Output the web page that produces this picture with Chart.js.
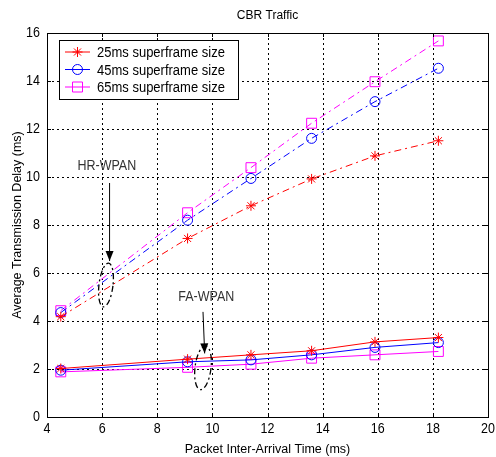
<!DOCTYPE html>
<html>
<head>
<meta charset="utf-8">
<script src="https://cdn.jsdelivr.net/npm/chart.js@4.4.0/dist/chart.umd.min.js"></script>
<style>
  html, body { margin: 0; padding: 0; background: #fff; }
</style>
</head>
<body>
<canvas id="chart" width="496" height="457"></canvas>
<script>
// ---------- DATA ----------
const interArrival = [4.5, 9.1, 11.4, 13.6, 15.9, 18.2];

// HR-WPAN (dash-dot lines)
const hr25 = [4.18, 7.44, 8.80, 9.92, 10.88, 11.51];
const hr45 = [4.35, 8.20, 9.94, 11.61, 13.14, 14.53];
const hr65 = [4.43, 8.51, 10.39, 12.24, 13.97, 15.67];

// FA-WPAN (solid lines)
const fa25 = [2.02, 2.41, 2.59, 2.76, 3.13, 3.31];
const fa45 = [1.95, 2.30, 2.38, 2.59, 2.90, 3.10];
const fa65 = [1.88, 2.07, 2.20, 2.45, 2.59, 2.73];

const legendLabels = ["25ms superframe size", "45ms superframe size", "65ms superframe size"];
const xTicks = [4, 6, 8, 10, 12, 14, 16, 18, 20];
const yTicks = [0, 2, 4, 6, 8, 10, 12, 14, 16];

const FONT = "'Liberation Sans', Arial, sans-serif";
const RED = "#ff0000", BLUE = "#0000ff", MAGENTA = "#ff00ff";
const DASHDOT = [7, 4, 2, 4];

function toPoints(ys) {
  return ys.map((y, i) => ({ x: interArrival[i], y: y }));
}

function series(label, ys, color, style, radius, dashed) {
  return {
    label: label,
    data: toPoints(ys),
    borderColor: color,
    backgroundColor: "rgba(0,0,0,0)",
    borderWidth: 1,
    borderDash: dashed ? DASHDOT : [],
    pointStyle: style,
    pointRadius: radius,
    pointBorderColor: color,
    pointBackgroundColor: "rgba(0,0,0,0)",
    pointBorderWidth: 1,
    tension: 0,
    fill: false
  };
}

// text a bit taller than wide, like the original figure
function tallText(ctx, text, x, y, size, align, stretch) {
  ctx.save();
  ctx.font = size + "px " + FONT;
  ctx.textAlign = align;
  ctx.textBaseline = "middle";
  ctx.translate(x, y);
  ctx.scale(1, stretch);
  ctx.fillText(text, 0, 0);
  ctx.restore();
}

// ---------- PLUGINS ----------
const gridPlugin = {
  id: "matlabGrid",
  beforeDatasetsDraw(chart) {
    const { ctx, chartArea: a, scales: { x, y } } = chart;
    ctx.save();
    ctx.strokeStyle = "#000";
    ctx.lineWidth = 1;
    ctx.setLineDash([2, 3]);
    xTicks.slice(1, -1).forEach(v => {
      const px = Math.round(x.getPixelForValue(v)) + 0.5;
      ctx.beginPath(); ctx.moveTo(px, a.top); ctx.lineTo(px, a.bottom); ctx.stroke();
    });
    yTicks.slice(1, -1).forEach(v => {
      const py = Math.round(y.getPixelForValue(v)) + 0.5;
      ctx.beginPath(); ctx.moveTo(a.left, py); ctx.lineTo(a.right, py); ctx.stroke();
    });
    ctx.restore();
  }
};

function drawMarker(ctx, style, cx, cy, r) {
  ctx.beginPath();
  if (style === "circle") {
    ctx.arc(cx, cy, r, 0, Math.PI * 2);
  } else if (style === "rect") {
    ctx.rect(cx - r, cy - r, 2 * r, 2 * r);
  } else {
    const d = r * Math.SQRT1_2;
    ctx.moveTo(cx - r, cy); ctx.lineTo(cx + r, cy);
    ctx.moveTo(cx, cy - r); ctx.lineTo(cx, cy + r);
    ctx.moveTo(cx - d, cy - d); ctx.lineTo(cx + d, cy + d);
    ctx.moveTo(cx - d, cy + d); ctx.lineTo(cx + d, cy - d);
  }
  ctx.stroke();
}

function drawArrow(ctx, x1, y1, x2, y2) {
  ctx.setLineDash([]);
  ctx.beginPath(); ctx.moveTo(x1, y1); ctx.lineTo(x2, y2); ctx.stroke();
  const ang = Math.atan2(y2 - y1, x2 - x1);
  const len = 10, w = 4;
  ctx.beginPath();
  ctx.moveTo(x2, y2);
  ctx.lineTo(x2 - len * Math.cos(ang) + w * Math.sin(ang), y2 - len * Math.sin(ang) - w * Math.cos(ang));
  ctx.lineTo(x2 - len * Math.cos(ang) - w * Math.sin(ang), y2 - len * Math.sin(ang) + w * Math.cos(ang));
  ctx.closePath();
  ctx.fill();
}

// annotation anchors in data units
const notes = [
  { text: "HR-WPAN", tx: 6.17, ty: 10.45, ax1: 6.27, ay1: 9.75, ax2: 6.27, ay2: 6.5, ex: 6.14, ey: 5.5, erx: 7, ery: 22 },
  { text: "FA-WPAN", tx: 9.78, ty: 5.0, ax1: 9.66, ay1: 4.38, ax2: 9.72, ay2: 2.65, ex: 9.66, ey: 2.05, erx: 8, ery: 22 }
];

const overlayPlugin = {
  id: "matlabOverlay",
  afterDatasetsDraw(chart) {
    const { ctx, chartArea: a, scales: { x, y } } = chart;
    ctx.save();

    // box and inward ticks
    ctx.strokeStyle = "#000";
    ctx.lineWidth = 1;
    ctx.setLineDash([]);
    ctx.strokeRect(Math.round(a.left) + 0.5, Math.round(a.top) + 0.5,
      Math.round(a.right - a.left), Math.round(a.bottom - a.top));
    ctx.beginPath();
    xTicks.forEach(v => {
      const px = Math.round(x.getPixelForValue(v)) + 0.5;
      ctx.moveTo(px, a.bottom); ctx.lineTo(px, a.bottom - 4);
      ctx.moveTo(px, a.top); ctx.lineTo(px, a.top + 4);
    });
    yTicks.forEach(v => {
      const py = Math.round(y.getPixelForValue(v)) + 0.5;
      ctx.moveTo(a.left, py); ctx.lineTo(a.left + 4, py);
      ctx.moveTo(a.right, py); ctx.lineTo(a.right - 4, py);
    });
    ctx.stroke();

    // tick labels
    ctx.fillStyle = "#000";
    xTicks.forEach(v => tallText(ctx, String(v), x.getPixelForValue(v), a.bottom + 12, 12.5, "center", 1.2));
    yTicks.forEach(v => tallText(ctx, String(v), a.left - 7, y.getPixelForValue(v), 12.5, "right", 1.2));

    // title
    ctx.font = "12px " + FONT;
    ctx.textAlign = "center";
    ctx.textBaseline = "middle";
    ctx.fillText("CBR Traffic", (a.left + a.right) / 2, 16);

    // annotations
    ctx.strokeStyle = "#000";
    notes.forEach(n => {
      ctx.fillStyle = "#333";
      tallText(ctx, n.text, x.getPixelForValue(n.tx), y.getPixelForValue(n.ty), 12.5, "center", 1.15);
      ctx.fillStyle = "#000";
      drawArrow(ctx, x.getPixelForValue(n.ax1), y.getPixelForValue(n.ay1),
        x.getPixelForValue(n.ax2), y.getPixelForValue(n.ay2));
      ctx.setLineDash([6, 3, 2, 3]);
      ctx.lineWidth = 1.3;
      ctx.beginPath();
      ctx.ellipse(x.getPixelForValue(n.ex), y.getPixelForValue(n.ey), n.erx, n.ery, 0.12, 0, Math.PI * 2);
      ctx.stroke();
      ctx.lineWidth = 1;
    });

    // legend
    const lx = 59, ly = 40, lw = 179, lh = 59;
    ctx.setLineDash([]);
    ctx.fillStyle = "#fff";
    ctx.fillRect(lx, ly, lw, lh);
    ctx.strokeStyle = "#000";
    ctx.strokeRect(lx + 0.5, ly + 0.5, lw, lh);
    const styles = [
      { color: RED, style: "star", r: 5 },
      { color: BLUE, style: "circle", r: 5 },
      { color: MAGENTA, style: "rect", r: 5 }
    ];
    legendLabels.forEach((label, i) => {
      const cy = ly + 12 + i * 17.5;
      const s = styles[i];
      ctx.strokeStyle = s.color;
      ctx.beginPath(); ctx.moveTo(lx + 6, cy); ctx.lineTo(lx + 31, cy); ctx.stroke();
      drawMarker(ctx, s.style, lx + 18.5, cy, s.r);
      ctx.fillStyle = "#000";
      tallText(ctx, label, lx + 38, cy + 1, 13, "left", 1.15);
    });

    ctx.restore();
  }
};

// ---------- CHART ----------
new Chart(document.getElementById("chart").getContext("2d"), {
  type: "line",
  data: {
    datasets: [
      series(legendLabels[0], hr25, RED, "star", 5, true),
      series(legendLabels[1], hr45, BLUE, "circle", 5, true),
      series(legendLabels[2], hr65, MAGENTA, "rect", 7, true),
      series(legendLabels[0], fa25, RED, "star", 5, false),
      series(legendLabels[1], fa45, BLUE, "circle", 5, false),
      series(legendLabels[2], fa65, MAGENTA, "rect", 7, false)
    ]
  },
  options: {
    responsive: false,
    animation: false,
    devicePixelRatio: 1,
    layout: { padding: { top: 33, right: 7, left: 0, bottom: 0 } },
    plugins: {
      legend: { display: false },
      title: { display: false },
      tooltip: { enabled: false }
    },
    scales: {
      x: {
        type: "linear",
        min: 4,
        max: 20,
        afterFit: s => { s.height = 40; },
        grid: { display: false, drawTicks: false },
        border: { display: false },
        ticks: { display: false },
        title: {
          display: true,
          text: "Packet Inter-Arrival Time (ms)",
          color: "#000",
          font: { family: FONT, size: 12.5 },
          padding: { top: 0, bottom: 0 }
        }
      },
      y: {
        min: 0,
        max: 16,
        afterFit: s => { s.width = 47; },
        grid: { display: false, drawTicks: false },
        border: { display: false },
        ticks: { display: false },
        title: {
          display: true,
          text: "Average Transmission Delay (ms)",
          color: "#000",
          font: { family: FONT, size: 12.5 },
          padding: { top: 10, bottom: 0 }
        }
      }
    }
  },
  plugins: [gridPlugin, overlayPlugin]
});
</script>
</body>
</html>
